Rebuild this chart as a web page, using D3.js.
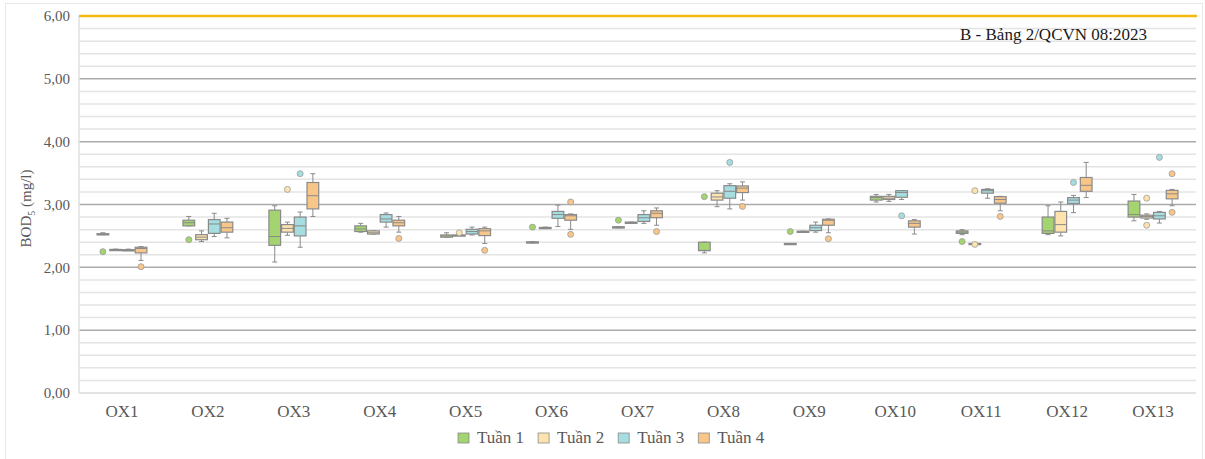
<!DOCTYPE html>
<html>
<head>
<meta charset="utf-8">
<script src="https://cdn.jsdelivr.net/npm/d3@7"></script>
<style>
  body { margin: 0; background: #fff; }
  svg { display: block; }
  svg text { font-family: "Liberation Serif", serif; }
</style>
</head>
<body>
<svg id="chart" width="1205" height="459"></svg>
<script>
// ---- data ----
const categories = ["OX1","OX2","OX3","OX4","OX5","OX6","OX7","OX8","OX9","OX10","OX11","OX12","OX13"];
const seriesNames = ["Tuần 1","Tuần 2","Tuần 3","Tuần 4"];
const yTicks = [0,1,2,3,4,5,6];
const limitValue = 6.0;
const limitLabel = "B - Bảng 2/QCVN 08:2023";

// [min, q1, median, q3, max] per category
const tuan1Stats = [
  [2.52,2.525,2.53,2.535,2.55],[2.66,2.66,2.71,2.75,2.81],[2.085,2.35,2.49,2.91,2.98],
  [2.56,2.57,2.61,2.66,2.70],[2.48,2.48,2.50,2.515,2.55],[2.39,2.395,2.40,2.405,2.41],
  [2.63,2.635,2.64,2.645,2.65],[2.23,2.265,2.27,2.40,2.40],[2.37,2.37,2.375,2.38,2.38],
  [3.04,3.07,3.11,3.13,3.16],[2.52,2.54,2.56,2.58,2.60],[2.52,2.54,2.58,2.80,2.98],
  [2.74,2.80,2.84,3.055,3.16]
];
const tuan2Stats = [
  [2.275,2.28,2.28,2.285,2.29],[2.41,2.44,2.48,2.52,2.58],[2.51,2.56,2.62,2.68,2.72],
  [2.53,2.53,2.55,2.58,2.58],[2.51,2.51,2.51,2.515,2.52],[2.62,2.625,2.63,2.635,2.64],
  [2.70,2.70,2.71,2.72,2.72],[2.965,3.07,3.12,3.18,3.22],[2.565,2.57,2.57,2.575,2.575],
  [3.05,3.08,3.10,3.13,3.16],[2.37,2.37,2.375,2.38,2.38],[2.50,2.56,2.68,2.89,3.04],
  [2.765,2.785,2.81,2.83,2.85]
];
const tuan3Stats = [
  [2.27,2.275,2.28,2.28,2.29],[2.49,2.54,2.69,2.76,2.86],[2.32,2.50,2.66,2.80,2.88],
  [2.64,2.72,2.77,2.84,2.865],[2.515,2.53,2.57,2.605,2.64],[2.65,2.78,2.84,2.89,2.99],
  [2.70,2.73,2.79,2.84,2.90],[2.93,3.10,3.21,3.30,3.33],[2.56,2.585,2.63,2.67,2.72],
  [3.08,3.115,3.19,3.22,3.22],[3.10,3.18,3.22,3.24,3.25],[2.87,3.015,3.07,3.11,3.145],
  [2.705,2.77,2.82,2.875,2.89]
];
const tuan4Stats = [
  [2.11,2.23,2.30,2.32,2.33],[2.47,2.56,2.63,2.72,2.78],[2.81,2.93,3.14,3.35,3.49],
  [2.56,2.66,2.71,2.75,2.81],[2.38,2.505,2.58,2.615,2.64],[2.605,2.75,2.82,2.84,2.85],
  [2.67,2.79,2.86,2.90,2.945],[3.07,3.19,3.26,3.295,3.36],[2.55,2.67,2.75,2.765,2.77],
  [2.53,2.64,2.70,2.74,2.76],[2.90,3.02,3.08,3.125,3.13],[3.11,3.21,3.305,3.43,3.67],
  [2.98,3.09,3.17,3.225,3.24]
];
// outliers per category
const tuan1Outliers = [[2.25],[2.44],[],[],[],[2.64],[2.75],[3.125],[2.57],[],[2.41],[],[]];
const tuan2Outliers = [[],[],[3.24],[],[2.55],[],[],[],[],[],[3.22,2.365],[],[3.10,2.67]];
const tuan3Outliers = [[],[],[3.49],[],[],[],[],[3.67],[],[2.82],[],[3.35],[3.75]];
const tuan4Outliers = [[2.01],[],[],[2.46],[2.27],[3.04,2.525],[2.57],[2.97],[2.455],[],[2.81],[],[3.49,2.875]];

const seriesColors = ["#a3d46f","#fde3ad","#a5dde0","#f9c68a"];

// ---- layout ----
const FONT = "Liberation Serif";
const svg = d3.select("#chart");
const W = 1205, H = 459;
const x0 = 79, x1 = 1196, y0 = 393, y1 = 16;

svg.append("rect").attr("x",5.5).attr("y",3.5).attr("width",W-8).attr("height",H-2)
  .attr("fill","#fff").attr("stroke","#e8e8e8").attr("stroke-width",1);

const y = d3.scaleLinear().domain([0,6]).range([y0,y1]);
const xBand = d3.scaleBand().domain(categories).range([x0,x1]).paddingInner(0.42).paddingOuter(0.21);
const xSub = d3.scaleBand().domain(seriesNames).range([0,xBand.bandwidth()]).paddingInner(0.08);

// minor gridlines
const minorTicks = d3.range(0, 6.0001, 0.2).filter(v => Math.abs(v - Math.round(v)) > 1e-6);
svg.append("g").selectAll("line").data(minorTicks).join("line")
  .attr("x1",x0).attr("x2",x1).attr("y1",d=>y(d)).attr("y2",d=>y(d))
  .attr("stroke","#e4e4e4").attr("stroke-width",1.5);
// major gridlines
svg.append("g").selectAll("line").data(yTicks.filter(v=>v>0 && v<6)).join("line")
  .attr("x1",x0).attr("x2",x1).attr("y1",d=>y(d)).attr("y2",d=>y(d))
  .attr("stroke","#ababab").attr("stroke-width",1.5);
// zero line & left axis line
svg.append("line").attr("x1",x0).attr("x2",x1).attr("y1",y(0)).attr("y2",y(0))
  .attr("stroke","#d9d9d9").attr("stroke-width",1.5);
svg.append("line").attr("x1",x0).attr("x2",x0).attr("y1",y(6)).attr("y2",y(0))
  .attr("stroke","#e0e0e0").attr("stroke-width",1.5);

// y axis labels
const yAxis = d3.axisLeft(y).tickValues(yTicks).tickSize(0).tickPadding(9)
  .tickFormat(d => d3.format(".2f")(d).replace(".", ","));
const gy = svg.append("g").attr("transform",`translate(${x0},0)`).call(yAxis);
gy.attr("font-family", null);
gy.select(".domain").remove();
gy.selectAll("text").style("font-family",FONT).style("font-size","15px").attr("fill","#595959");

// x axis labels
const xAxis = d3.axisBottom(xBand).tickSize(0).tickPadding(12);
const gx = svg.append("g").attr("transform",`translate(0,${y0})`).call(xAxis);
gx.attr("font-family", null);
gx.select(".domain").remove();
gx.selectAll("text").style("font-family",FONT).style("font-size","17px").attr("fill","#595959");

// y title
const yt = svg.append("text").attr("transform",`translate(31,${(y0+y1)/2+4}) rotate(-90)`)
  .attr("text-anchor","middle").style("font-family",FONT).style("font-size","15px").attr("fill","#595959");
yt.append("tspan").text("BOD");
yt.append("tspan").text("5").style("font-size","10px").attr("dy",4);
yt.append("tspan").text(" (mg/l)").attr("dy",-4);

// limit line
svg.append("line").attr("x1",x0).attr("x2",x1+1).attr("y1",y(limitValue)).attr("y2",y(limitValue))
  .attr("stroke","#f2b90f").attr("stroke-width",2.5);
svg.append("text").attr("x",960).attr("y",40).style("font-family",FONT).style("font-size","17px").attr("fill","#1a1a1a")
  .text(limitLabel);

// boxes
const allStats = [tuan1Stats,tuan2Stats,tuan3Stats,tuan4Stats];
const allOut = [tuan1Outliers,tuan2Outliers,tuan3Outliers,tuan4Outliers];
const strokeC = "#8a8a8a";
seriesNames.forEach((s, si) => {
  const g = svg.append("g");
  categories.forEach((c, ci) => {
    const [mn,q1,md,q3,mx] = allStats[si][ci];
    const bx = xBand(c) + xSub(s);
    const bw = xSub.bandwidth();
    const cx = bx + bw/2;
    g.append("line").attr("x1",cx).attr("x2",cx).attr("y1",y(mx)).attr("y2",y(q3)).attr("stroke",strokeC).attr("stroke-width",1);
    g.append("line").attr("x1",cx).attr("x2",cx).attr("y1",y(q1)).attr("y2",y(mn)).attr("stroke",strokeC).attr("stroke-width",1);
    g.append("line").attr("x1",cx-2.5).attr("x2",cx+2.5).attr("y1",y(mx)).attr("y2",y(mx)).attr("stroke",strokeC).attr("stroke-width",1);
    g.append("line").attr("x1",cx-2.5).attr("x2",cx+2.5).attr("y1",y(mn)).attr("y2",y(mn)).attr("stroke",strokeC).attr("stroke-width",1);
    const h = Math.max(y(q1)-y(q3), 1.2);
    g.append("rect").attr("x",bx).attr("y",y(q3)).attr("width",bw).attr("height",h)
      .attr("fill",seriesColors[si]).attr("stroke",strokeC).attr("stroke-width",1.2);
    g.append("line").attr("x1",bx).attr("x2",bx+bw).attr("y1",y(md)).attr("y2",y(md))
      .attr("stroke",strokeC).attr("stroke-width",1);
    allOut[si][ci].forEach(v => {
      g.append("circle").attr("cx",cx).attr("cy",y(v)).attr("r",3)
        .attr("fill",seriesColors[si]).attr("stroke","#9a9a9a").attr("stroke-width",0.8);
    });
  });
});

// legend
const legend = svg.append("g").attr("transform","translate(458,433)");
let lx = 0;
seriesNames.forEach((s, i) => {
  const item = legend.append("g").attr("transform",`translate(${lx},0)`);
  item.append("rect").attr("x",0).attr("y",0).attr("width",11).attr("height",10)
    .attr("fill",seriesColors[i]).attr("stroke","#8a8a8a").attr("stroke-width",0.8);
  const t = item.append("text").attr("x",19).attr("y",10).style("font-family",FONT).style("font-size","17px")
    .attr("fill","#595959").text(s);
  lx += 19 + t.node().getComputedTextLength() + 14;
});
</script>
</body>
</html>
